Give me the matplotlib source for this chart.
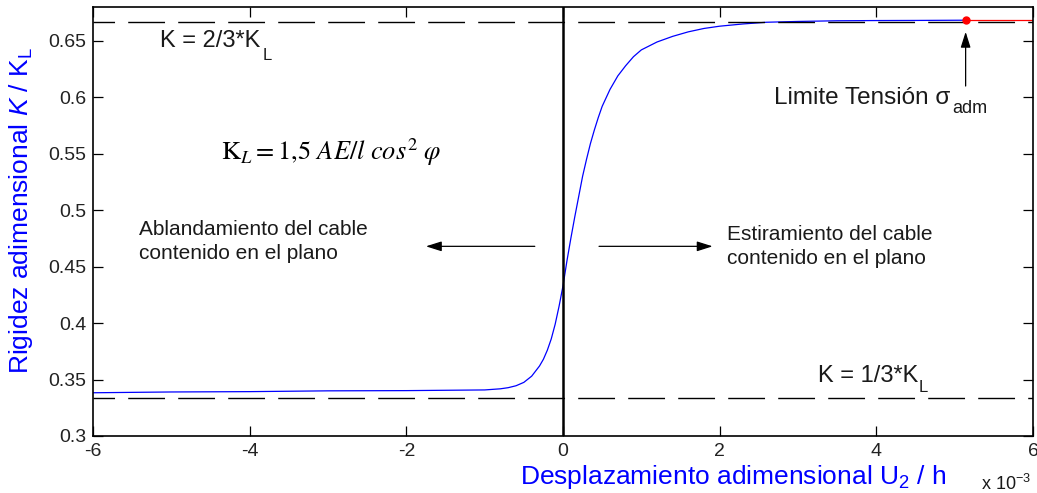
import matplotlib
matplotlib.use('Agg')
import matplotlib.pyplot as plt

plt.rcParams['font.family'] = ['Liberation Sans', 'DejaVu Sans']
plt.rcParams['mathtext.fontset'] = 'custom'
plt.rcParams['mathtext.rm'] = 'Liberation Sans'
plt.rcParams['mathtext.it'] = 'Liberation Sans:italic'
plt.rcParams['axes.unicode_minus'] = False

# rigidez adimensional K/KL frente a U2/h (eje en unidades de 1e-3)
u2_h = [-6.0, -5.0, -4.0, -3.0, -2.0, -1.5, -1.0, -0.8, -0.7, -0.6, -0.5,
        -0.4, -0.3, -0.25, -0.2, -0.15, -0.1, -0.05, 0.0, 0.05, 0.1, 0.15,
        0.2, 0.25, 0.3, 0.35, 0.4, 0.45, 0.5, 0.6, 0.7, 0.8, 0.9, 1.0, 1.2,
        1.4, 1.6, 1.8, 2.0, 2.3, 2.6, 3.0, 3.5, 4.0, 4.5, 5.14]
k_kl = [0.3383, 0.3390, 0.3393, 0.3400, 0.3402, 0.3405, 0.3408, 0.3418,
        0.3428, 0.3445, 0.3475, 0.3530, 0.3620, 0.3680, 0.3760, 0.3860,
        0.3990, 0.4150, 0.4330, 0.4550, 0.4750, 0.4940, 0.5120, 0.5300,
        0.5450, 0.5590, 0.5710, 0.5820, 0.5920, 0.6070, 0.6190, 0.6280,
        0.6360, 0.6420, 0.6490, 0.6540, 0.6580, 0.6610, 0.6630, 0.6650,
        0.6665, 0.6672, 0.6678, 0.6680, 0.6681, 0.6683]

# tramo por encima del limite de tension admisible
u2_lim = [5.14, 6.0]
k_lim = [0.6683, 0.6683]

# asintotas
k_max = 2 / 3
k_min = 1 / 3

xticks = [-6, -4, -2, 0, 2, 4, 6]
xtick_labels = ['-6', '-4', '-2', '0', '2', '4', '6']
yticks = [0.3, 0.35, 0.4, 0.45, 0.5, 0.55, 0.6, 0.65]
ytick_labels = ['0.3', '0.35', '0.4', '0.45', '0.5', '0.55', '0.6', '0.65']

W, H = 1037, 493
fig = plt.figure(figsize=(W / 100, H / 100), dpi=100)
ax = fig.add_axes([93 / W, 1 - 436 / H, 940 / W, 429 / H])

ax.plot(u2_h, k_kl, color='#0000ff', lw=0.9, zorder=2)
ax.plot(u2_lim, k_lim, color='#ff0000', lw=0.9, zorder=2)
ax.plot(u2_lim[0], k_lim[0], 'o', color='#ff0000', ms=5, zorder=4)

dash = (11, (26.5, 9.5))
ax.axhline(k_max, color='black', lw=1.0, linestyle=dash, zorder=3)
ax.axhline(k_min, color='black', lw=1.0, linestyle=dash, zorder=3)
ax.axvline(0, color='black', lw=1.8, zorder=3)

ax.set_xlim(-6, 6)
ax.set_ylim(0.3, 0.68)
ax.set_xticks(xticks)
ax.set_xticklabels(xtick_labels)
ax.set_yticks(yticks)
ax.set_yticklabels(ytick_labels)
ax.tick_params(direction='in', length=7, width=0.9, top=True, right=True,
               labelsize=14, labelcolor='#222222', pad=5)
for s in ax.spines.values():
    s.set_linewidth(1.2)

txt = '#1a1a1a'
# etiquetas de las asintotas (subindice aparte, como en MATLAB)
ax.text(-5.15, 0.6445, 'K = 2/3*K', fontsize=17, color=txt, va='baseline')
ax.text(-3.83, 0.6327, 'L', fontsize=12, color=txt, va='baseline')
ax.text(3.25, 0.348, 'K = 1/3*K', fontsize=17, color=txt, va='baseline')
ax.text(4.545, 0.3387, 'L', fontsize=12, color=txt, va='baseline')
ax.text(2.69, 0.5944, 'Limite Tensión σ', fontsize=17.5, color=txt, va='baseline')
ax.text(4.97, 0.5858, 'adm', fontsize=13, color=txt, va='baseline')

ax.text(-5.41, 0.4779, 'Ablandamiento del cable', fontsize=15, color=txt, va='baseline')
ax.text(-5.41, 0.4564, 'contenido en el plano', fontsize=15, color=txt, va='baseline')
ax.text(2.09, 0.4735, 'Estiramiento del cable', fontsize=15, color=txt, va='baseline')
ax.text(2.09, 0.4520, 'contenido en el plano', fontsize=15, color=txt, va='baseline')

ax.text(-4.36, 0.5448, r'$\mathrm{K}_{\mathit{L}} = \mathit{1{,}5\ AE/l\ cos^2\ }\varphi$',
        fontsize=19, color='black', va='baseline', math_fontfamily='stix')

# flechas
arrow = dict(arrowstyle='-|>,head_length=0.95,head_width=0.3', color='black',
             lw=0.9, shrinkA=0, shrinkB=0, mutation_scale=10)
ax.annotate('', xy=(-1.75, 0.468), xytext=(-0.36, 0.468), arrowprops=arrow)
ax.annotate('', xy=(1.91, 0.468), xytext=(0.46, 0.468), arrowprops=arrow)
ax.annotate('', xy=(5.14, 0.658), xytext=(5.14, 0.610), arrowprops=arrow)

blue = '#0000ff'
fig.text(21 / W, 1 - 210 / H, 'Rigidez adimensional $K$ / K$_\\mathrm{L}$',
         rotation=90, ha='center', va='center', fontsize=19, color=blue)
fig.text(733 / W, 1 - 484 / H, 'Desplazamiento adimensional U$_\\mathrm{2}$ / h',
         ha='center', va='baseline', fontsize=19, color=blue)
fig.text(981 / W, 1 - 490 / H, 'x 10$^{\\mathrm{-3}}$', ha='left', va='baseline',
         fontsize=13, color=txt)

plt.savefig('out.png', dpi=100)
